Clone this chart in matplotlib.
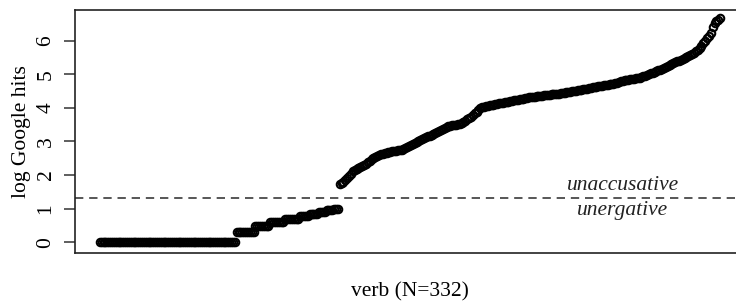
import numpy as np
import matplotlib
matplotlib.use("Agg")
import matplotlib.pyplot as plt

# log10 of Google hit counts, verbs sorted by frequency
low_part = ([0.0] * 73 + [0.301] * 10 + [0.477] * 8 + [0.602] * 8 + [0.699] * 8
            + [0.778] * 5 + [0.845] * 5 + [0.903] * 4 + [0.954] * 4 + [1.0] * 3)
high_part = [
    1.72, 1.76, 1.80, 1.85, 1.90, 1.96, 2.04, 2.11, 2.15, 2.18,
    2.21, 2.24, 2.27, 2.30, 2.34, 2.39, 2.43, 2.47, 2.51, 2.55,
    2.58, 2.60, 2.62, 2.64, 2.66, 2.67, 2.68, 2.69, 2.70, 2.71,
    2.72, 2.73, 2.74, 2.75, 2.78, 2.81, 2.84, 2.87, 2.90, 2.93,
    2.95, 2.98, 3.01, 3.04, 3.07, 3.10, 3.12, 3.15, 3.17, 3.19,
    3.22, 3.25, 3.28, 3.31, 3.34, 3.37, 3.40, 3.43, 3.46, 3.47,
    3.48, 3.49, 3.50, 3.51, 3.52, 3.54, 3.58, 3.62, 3.66, 3.70,
    3.74, 3.79, 3.84, 3.89, 3.94, 3.99, 4.01, 4.02, 4.04, 4.05,
    4.07, 4.08, 4.09, 4.11, 4.12, 4.13, 4.14, 4.15, 4.16, 4.17,
    4.18, 4.19, 4.21, 4.22, 4.23, 4.24, 4.25, 4.26, 4.27, 4.28,
    4.29, 4.31, 4.32, 4.33, 4.33, 4.34, 4.35, 4.36, 4.36, 4.37,
    4.38, 4.38, 4.39, 4.40, 4.40, 4.41, 4.42, 4.42, 4.43, 4.44,
    4.45, 4.46, 4.47, 4.48, 4.49, 4.50, 4.51, 4.52, 4.53, 4.54,
    4.55, 4.56, 4.57, 4.58, 4.59, 4.61, 4.62, 4.63, 4.64, 4.65,
    4.66, 4.67, 4.68, 4.69, 4.70, 4.71, 4.72, 4.74, 4.75, 4.77,
    4.79, 4.81, 4.82, 4.83, 4.84, 4.85, 4.86, 4.87, 4.88, 4.89,
    4.90, 4.92, 4.94, 4.96, 4.98, 5.00, 5.03, 5.05, 5.07, 5.09,
    5.11, 5.13, 5.15, 5.17, 5.20, 5.23, 5.26, 5.29, 5.32, 5.35,
    5.38, 5.40, 5.43, 5.46, 5.49, 5.52, 5.55, 5.58, 5.60, 5.63,
    5.68, 5.73, 5.78, 5.85, 5.92, 6.00, 6.08, 6.15, 6.22, 6.40,
    6.52, 6.58, 6.62, 6.66,
]
log_hits = np.array(low_part + high_part)
verb_rank = np.arange(1, len(log_hits) + 1)

threshold = 1.32
yticks = [0, 1, 2, 3, 4, 5, 6]

serif = "Liberation Serif"
fs = 15.5
W, H = 736, 301

fig = plt.figure(figsize=(W / 100, H / 100), dpi=100)
ax = fig.add_axes([75 / W, (H - 253) / H, (745 - 75) / W, (253 - 10) / H])

ax.plot(verb_rank, log_hits, "o", mfc="none", mec="black", ms=5.4, mew=1.5)
ax.axhline(threshold, color="#3a3a3a", lw=1.2, ls=(0, (5, 3.5)))

ax.text(280, threshold + 0.08, "unaccusative", ha="center", va="bottom",
        family=serif, style="italic", fontsize=fs, color="#222222")
ax.text(280, threshold - 0.1, "unergative", ha="center", va="top",
        family=serif, style="italic", fontsize=fs, color="#222222")

ax.set_xlim(-12.24, 345.24)
ax.set_ylim(-0.32, 6.91)
ax.set_xticks([])
ax.set_yticks(yticks)
ax.set_yticklabels([str(t) for t in yticks], rotation=90, va="center",
                   family=serif, fontsize=fs)
ax.tick_params(axis="y", length=8, width=1.1, pad=6, color="#333333")
for s in ax.spines.values():
    s.set_linewidth(1.2)
    s.set_color("#222222")

ax.set_ylabel("log Google hits", family=serif, fontsize=fs, labelpad=4)
ax.set_xlabel("verb (N=332)", family=serif, fontsize=fs, labelpad=21)

fig.savefig("out.png", dpi=100)
